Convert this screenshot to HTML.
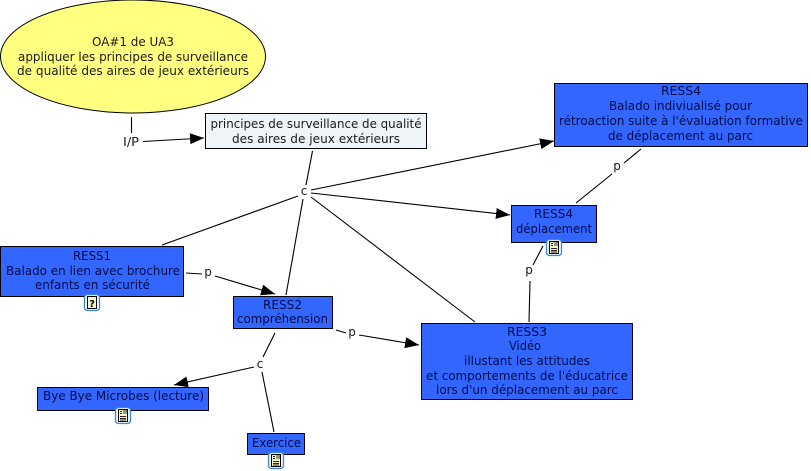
<!DOCTYPE html>
<html><head><meta charset="utf-8">
<style>
html,body{margin:0;padding:0;background:#fff;width:811px;height:471px;overflow:hidden}
svg{display:block}
text{font-family:"DejaVu Sans","Liberation Sans",sans-serif;font-size:12px;text-anchor:middle}
.t{fill:#000c48}
.k{fill:#1a1a1a}
.l{fill:#1a1a1a}
.b{fill:#3366ff;stroke:#000;stroke-width:1}
line{stroke:#000;stroke-width:1.1}
</style></head><body>
<svg width="811" height="471" viewBox="0 0 811 471" xmlns="http://www.w3.org/2000/svg">
<defs>
<marker id="a" markerUnits="userSpaceOnUse" markerWidth="14" markerHeight="12" refX="14" refY="6" orient="auto"><path d="M0,0.5 L14,6 L0,11.5 z" fill="#000"/></marker>
<symbol id="doc" width="16" height="17" viewBox="0 0 16 17" overflow="visible">
<rect x="0.5" y="0.5" width="15" height="16" rx="3" fill="#f2f8ff" stroke="#3f86d8" stroke-width="1.3"/>
<rect x="3.5" y="2.5" width="9" height="12" fill="#f9f5c4" stroke="#000"/>
<rect x="8" y="3" width="4" height="4" fill="#6fa88c"/>
<rect x="10" y="3" width="2" height="2" fill="#c8695c"/>
<path d="M5 4.5H7M5 6.5H7M5 9.5H11M5 11.5H11M5 13H11" stroke="#222" stroke-width="1" fill="none"/>
</symbol>
</defs>

<ellipse cx="133" cy="56.5" rx="132.5" ry="56.5" fill="#ffff80" stroke="#000"/>
<rect class="b" x="205.5" y="113.5" width="221" height="35" style="fill:#eef4f7"/>
<rect class="b" x="554.5" y="83.5" width="253" height="63"/>
<rect class="b" x="511.5" y="205.5" width="85" height="37"/>
<rect class="b" x="0.5" y="246.5" width="183" height="50"/>
<rect class="b" x="233.5" y="296.5" width="99" height="32"/>
<rect class="b" x="37.5" y="387.5" width="171" height="23"/>
<rect class="b" x="247.5" y="433.5" width="57" height="21"/>
<rect class="b" x="421.5" y="323.5" width="211" height="76"/>

<line x1="131.5" y1="117" x2="131.5" y2="133"/>
<line x1="143" y1="141.5" x2="204" y2="138" marker-end="url(#a)"/>
<line x1="312.5" y1="151" x2="306" y2="185"/>
<line x1="311" y1="190" x2="554" y2="141" marker-end="url(#a)"/>
<line x1="311" y1="193" x2="510" y2="215" marker-end="url(#a)"/>
<line x1="298" y1="196" x2="162" y2="245"/>
<line x1="303" y1="199" x2="286" y2="295"/>
<line x1="311" y1="197" x2="475" y2="322"/>
<line x1="576" y1="203" x2="612" y2="174"/>
<line x1="624" y1="163" x2="641" y2="149"/>
<line x1="529" y1="322" x2="530" y2="281"/>
<line x1="533" y1="265" x2="543" y2="246"/>
<line x1="186" y1="273" x2="202" y2="274"/>
<line x1="215" y1="276" x2="275" y2="294" marker-end="url(#a)"/>
<line x1="336" y1="330" x2="346" y2="333"/>
<line x1="359" y1="335" x2="419" y2="345" marker-end="url(#a)"/>
<line x1="275" y1="333" x2="263" y2="357"/>
<line x1="254" y1="367" x2="174" y2="385" marker-end="url(#a)"/>
<line x1="262" y1="372" x2="274" y2="432"/>

<text class="k" x="133" y="46" textLength="82" lengthAdjust="spacingAndGlyphs">OA#1 de UA3</text>
<text class="k" x="133" y="61" textLength="230" lengthAdjust="spacingAndGlyphs">appliquer les principes de surveillance</text>
<text class="k" x="133" y="75" textLength="232" lengthAdjust="spacingAndGlyphs">de qualité des aires de jeux extérieurs</text>
<text class="k" x="316" y="128" textLength="211" lengthAdjust="spacingAndGlyphs">principes de surveillance de qualité</text>
<text class="k" x="316" y="143" textLength="168" lengthAdjust="spacingAndGlyphs">des aires de jeux extérieurs</text>

<text class="l" x="131" y="146" textLength="16" lengthAdjust="spacingAndGlyphs">I/P</text>
<text class="l" x="304" y="195">c</text>
<text class="l" x="617" y="170">p</text>
<text class="l" x="529" y="274">p</text>
<text class="l" x="208" y="276">p</text>
<text class="l" x="352" y="336">p</text>
<text class="l" x="260" y="368">c</text>

<text class="t" x="681" y="95" textLength="40" lengthAdjust="spacingAndGlyphs">RESS4</text>
<text class="t" x="680.5" y="110" textLength="143" lengthAdjust="spacingAndGlyphs">Balado indiviualisé pour</text>
<text class="t" x="681" y="125" textLength="244" lengthAdjust="spacingAndGlyphs">rétroaction suite à l'évaluation formative</text>
<text class="t" x="680.5" y="140" textLength="145" lengthAdjust="spacingAndGlyphs">de déplacement au parc</text>

<text class="t" x="553.5" y="218" textLength="39" lengthAdjust="spacingAndGlyphs">RESS4</text>
<text class="t" x="554" y="233" textLength="76" lengthAdjust="spacingAndGlyphs">déplacement</text>

<text class="t" x="92" y="260" textLength="38" lengthAdjust="spacingAndGlyphs">RESS1</text>
<text class="t" x="93" y="275" textLength="174" lengthAdjust="spacingAndGlyphs">Balado en lien avec brochure</text>
<text class="t" x="92.5" y="289" textLength="115" lengthAdjust="spacingAndGlyphs">enfants en sécurité</text>

<text class="t" x="282.5" y="309" textLength="39" lengthAdjust="spacingAndGlyphs">RESS2</text>
<text class="t" x="282.5" y="323" textLength="91" lengthAdjust="spacingAndGlyphs">compréhension</text>

<text class="t" x="123.5" y="400" textLength="161" lengthAdjust="spacingAndGlyphs">Bye Bye Microbes (lecture)</text>
<text class="t" x="276.5" y="447" textLength="49" lengthAdjust="spacingAndGlyphs">Exercice</text>

<text class="t" x="527" y="336" textLength="40" lengthAdjust="spacingAndGlyphs">RESS3</text>
<text class="t" x="525" y="350" textLength="32" lengthAdjust="spacingAndGlyphs">Vidéo</text>
<text class="t" x="527" y="365" textLength="126" lengthAdjust="spacingAndGlyphs">illustant les attitudes</text>
<text class="t" x="527" y="380" textLength="202" lengthAdjust="spacingAndGlyphs">et comportements de l'éducatrice</text>
<text class="t" x="527" y="394" textLength="182" lengthAdjust="spacingAndGlyphs">lors d'un déplacement au parc</text>

<rect x="84.5" y="294.5" width="15" height="16" rx="3" fill="#f2f8ff" stroke="#3f86d8" stroke-width="1.3"/>
<rect x="87.5" y="296.5" width="9" height="12" fill="#f9f5c4" stroke="#000"/>
<text x="92" y="307" style="font-size:10px;font-weight:bold;fill:#000">?</text>
<use href="#doc" x="546" y="239"/>
<use href="#doc" x="115" y="407"/>
<use href="#doc" x="268" y="452"/>
</svg>
</body></html>
